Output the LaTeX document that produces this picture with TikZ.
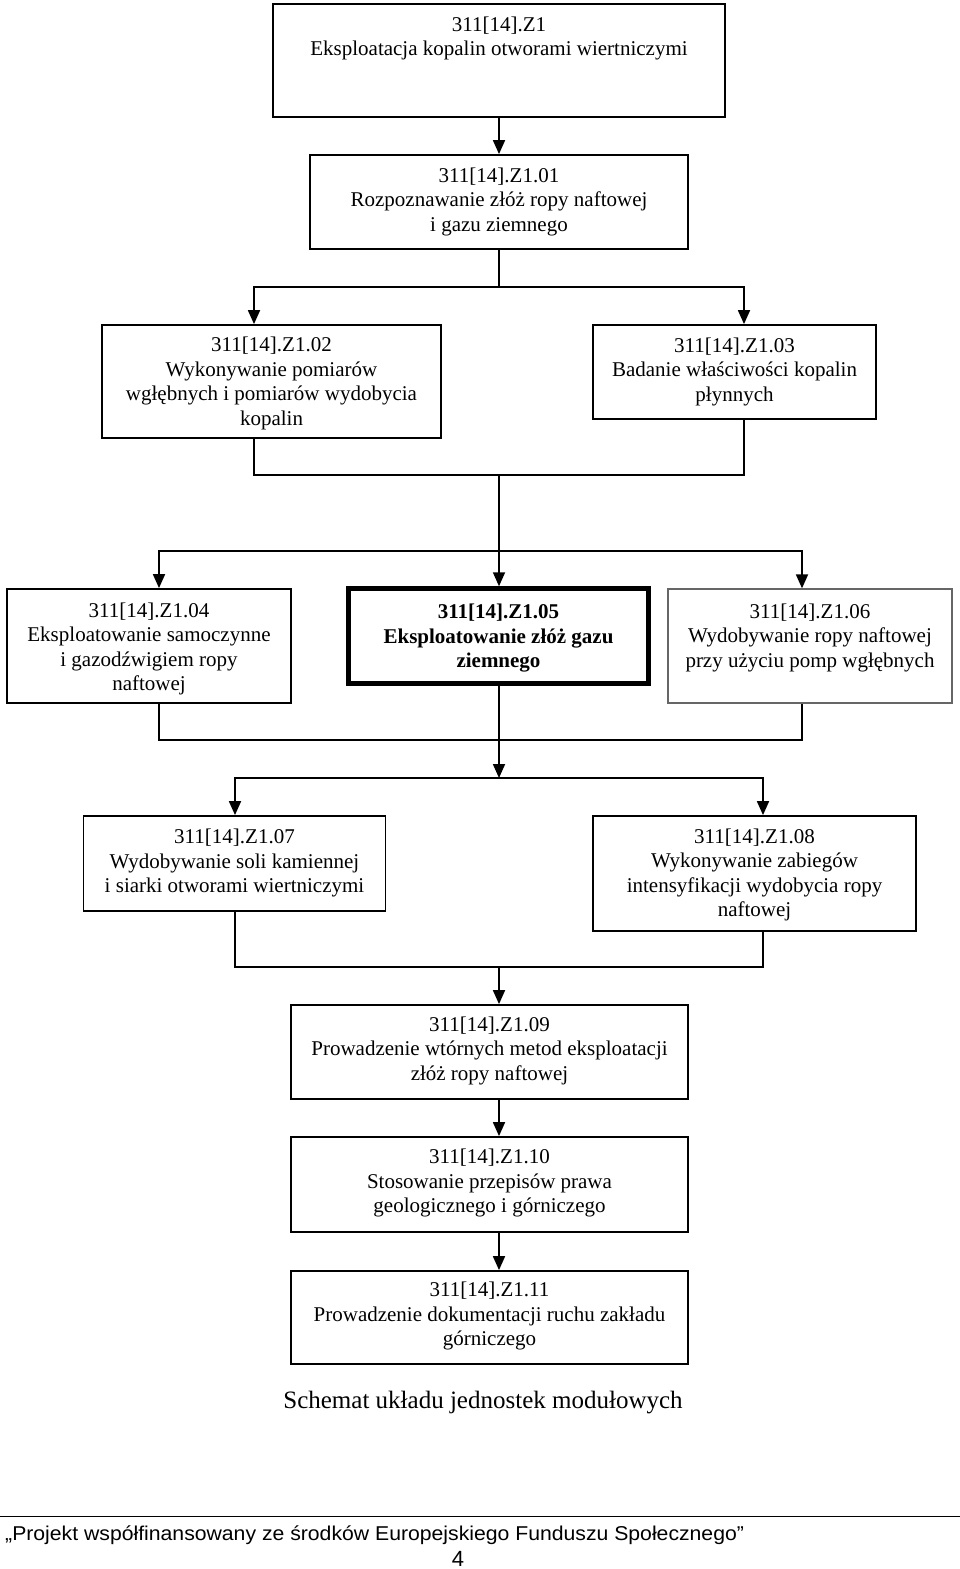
\documentclass[tikz,border=0pt]{standalone}
\usepackage{fontspec}
\setmainfont{Liberation Serif}
\newfontfamily\footfont{Liberation Sans}
\usetikzlibrary{arrows.meta}
% box text: a centred tabular, lowered by #1 pt without changing its size
\newcommand\boxtext[2][0]{\raisebox{-#1pt}[\height][\depth]{\begin{tabular}{@{}c@{}}#2\end{tabular}}}
\begin{document}
\begin{tikzpicture}[x=1pt,y=-1pt,
  box/.style={draw, line width=1.8pt, rectangle, inner sep=0pt,
    font=\fontsize{21}{24.5}\selectfont},
  boldbox/.style={box, line width=4.5pt, font=\fontsize{21}{24.5}\selectfont\bfseries},
  lightbox/.style={box, draw=black!60, line width=1.3pt},
  ln/.style={line width=1.8pt},
  arr/.style={line width=1.8pt, -{Triangle[width=12pt,length=14pt]}}]
\useasboundingbox[fill=white] (0,0) rectangle (960,1569);
% spine and branch x positions
\coordinate (sp) at (499,0);
\coordinate (xa) at (254,0);
\coordinate (xb) at (744,0);
\coordinate (xc) at (159,0);
\coordinate (xd) at (802,0);
\coordinate (xe) at (235,0);
\coordinate (xf) at (763,0);

\node[box, minimum width=452pt, minimum height=113pt] (z1) at (499,60.5)
  {\boxtext[-22]{311[14].Z1\\Eksploatacja kopalin otworami wiertniczymi}};
\node[box, minimum width=378pt, minimum height=94pt] (b01) at (499,202)
  {\boxtext{311[14].Z1.01\\Rozpoznawanie złóż ropy naftowej\\i gazu ziemnego}};
\node[box, minimum width=339pt, minimum height=113pt] (b02) at (271.5,381.5)
  {\boxtext[2]{311[14].Z1.02\\Wykonywanie pomiarów\\wgłębnych i pomiarów wydobycia\\kopalin}};
\node[box, minimum width=283pt, minimum height=94pt] (b03) at (734.5,372)
  {\boxtext{311[14].Z1.03\\Badanie właściwości kopalin\\płynnych}};
\node[box, minimum width=284pt, minimum height=114pt] (b04) at (149,646)
  {\boxtext[3]{311[14].Z1.04\\Eksploatowanie samoczynne\\i gazodźwigiem ropy\\naftowej}};
\node[boldbox, minimum width=300pt, minimum height=95pt] (b05) at (498.5,636)
  {\boxtext[2.5]{311[14].Z1.05\\Eksploatowanie złóż gazu\\ziemnego}};
\node[lightbox, minimum width=284pt, minimum height=114pt] (b06) at (810,646)
  {\boxtext[-8]{311[14].Z1.06\\Wydobywanie ropy naftowej\\przy użyciu pomp wgłębnych}};
\node[box, minimum width=302pt, minimum height=95pt] (b07) at (234.5,863.5)
  {\boxtext{311[14].Z1.07\\Wydobywanie soli kamiennej\\i siarki otworami wiertniczymi}};
\node[box, minimum width=323pt, minimum height=115pt] (b08) at (754.5,873.5)
  {\boxtext[1.5]{311[14].Z1.08\\Wykonywanie zabiegów\\intensyfikacji wydobycia ropy\\naftowej}};
\node[box, minimum width=397pt, minimum height=94pt] (b09) at (489.5,1052)
  {\boxtext[-1]{311[14].Z1.09\\Prowadzenie wtórnych metod eksploatacji\\złóż ropy naftowej}};
\node[box, minimum width=397pt, minimum height=95pt] (b10) at (489.5,1184.5)
  {\boxtext[-1]{311[14].Z1.10\\Stosowanie przepisów prawa\\geologicznego i górniczego}};
\node[box, minimum width=397pt, minimum height=93pt] (b11) at (489.5,1317.5)
  {\boxtext[-1]{311[14].Z1.11\\Prowadzenie dokumentacji ruchu zakładu\\górniczego}};

\node[anchor=base, inner sep=0pt, font=\fontsize{25}{30}\selectfont] (cap) at (483,1408)
  {Schemat układu jednostek modułowych};

% junction coordinates
\coordinate (j1) at (499,287);
\coordinate (j2) at (499,475);
\coordinate (j3) at (499,551);
\coordinate (j4) at (499,740);
\coordinate (j5) at (499,778);
\coordinate (j6) at (499,967);

% connectors
\draw[arr] (z1.south -| sp) -- (b01.north -| sp);
\draw[ln] (b01.south -| sp) -- (j1);
\draw[arr] (j1) -| (b02.north -| xa);
\draw[arr] (j1) -| (b03.north -| xb);
\draw[ln] (b02.south -| xa) |- (j2);
\draw[ln] (b03.south -| xb) |- (j2);
\draw[arr] (j2) -- (b05.north -| sp);
\draw[arr] (j3) -| (b04.north -| xc);
\draw[arr] (j3) -| (b06.north -| xd);
\draw[ln] (b04.south -| xc) |- (j4);
\draw[ln] (b06.south -| xd) |- (j4);
\draw[arr] (b05.south -| sp) -- (j5);
\draw[arr] (j5) -| (b07.north -| xe);
\draw[arr] (j5) -| (b08.north -| xf);
\draw[ln] (b07.south -| xe) |- (j6);
\draw[ln] (b08.south -| xf) |- (j6);
\draw[arr] (j6) -- (b09.north -| sp);
\draw[arr] (b09.south -| sp) -- (b10.north -| sp);
\draw[arr] (b10.south -| sp) -- (b11.north -| sp);

% footer
\coordinate (fl) at (0,1516.5);
\coordinate (fr) at (960,1516.5);
\draw[line width=1.3pt] (fl) -- (fr);
\node[anchor=base west, inner sep=0pt, font=\footfont\fontsize{20}{24}\selectfont] (foot) at (5,1540)
  {\scalebox{1.06}[1]{„Projekt współfinansowany ze środków Europejskiego Funduszu Społecznego”}};
\node[anchor=base, inner sep=0pt, font=\footfont\fontsize{22}{26}\selectfont] (page) at (458,1566) {4};
\end{tikzpicture}
\end{document}
